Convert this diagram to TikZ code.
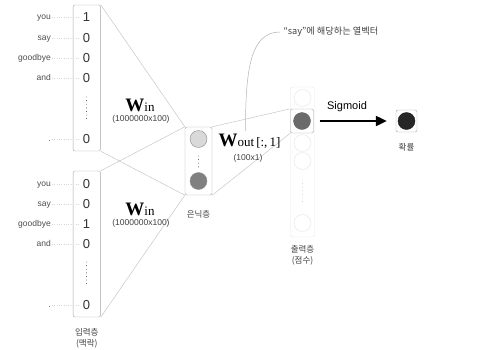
\documentclass[tikz,border=0pt]{standalone}
\usepackage{fontspec}
\setmainfont{Liberation Sans}
\newfontfamily\krfont{Noto Sans CJK KR}
\newfontfamily\wfont{Liberation Serif}
\usetikzlibrary{arrows.meta,positioning,calc}

\newcommand{\wlabel}[1]{{\wfont\fontsize{19}{19}\selectfont\bfseries W}{\wfont\fontsize{13}{13}\selectfont #1}}

\begin{document}
\begin{tikzpicture}[x=1pt, y=-1pt,
  font=\fontsize{8.5}{10}\selectfont,
  >=Latex,
  vecbox/.style={draw=black!35, rounded corners=2pt, fill=white, inner sep=0pt},
  entry/.style={font=\fontsize{13}{13}\selectfont, text=black!80, inner sep=1pt},
  word/.style={anchor=east, text=black!70, inner sep=1pt, text height=6pt, text depth=2pt},
  leader/.style={draw=black!15, dotted, line width=0.35pt},
  link/.style={draw=black!22, line width=0.5pt},
  unit/.style={circle, minimum size=17pt, inner sep=0pt, draw=black!45},
  ghost/.style={circle, minimum size=17pt, inner sep=0pt, draw=black!10},
  vdots/.style={line width=0.9pt, dash pattern=on 0pt off 3.6pt, line cap=round, black!70},
  krlabel/.style={font=\krfont\fontsize{8.5}{10.5}\selectfont, align=center, text=black!75},
  dims/.style={text=black!75},
  arrow/.style={-{Triangle[length=11pt,width=10pt]}, line width=2.2pt}
]
  \useasboundingbox (0,0) rectangle (479,349);

  \node[vecbox, minimum width=27.5pt, minimum height=146pt] (intop) at (86.8,78) {};
  \node[vecbox, minimum width=27.5pt, minimum height=146pt] (inbot) at (86.8,244) {};
  \node[vecbox, minimum width=27pt, minimum height=68pt] (hid) at (198.5,161) {};
  \node[vecbox, draw=black!10, minimum width=24pt, minimum height=150pt] (outcol) at (302.5,162) {};

  \draw[link] (intop.north east) -- (hid.north west);
  \draw[link] (intop.south east) -- (hid.south west);
  \draw[link] (inbot.north east) -- (hid.north west);
  \draw[link] (inbot.south east) -- (hid.south west);

  \foreach \n/\y/\w/\v in {1/17/you/1, 2/38/say/0, 3/58/goodbye/0, 4/78/and/0, 5/139/./0} {
    \node[word] (tw\n) at (52,\y) {\w};
    \draw[leader] (tw\n.east) -- ++(27,0);
    \node[entry] (t\n) at (86.5,\y) {\v};
  }
  \foreach \n/\y/\w/\v in {1/184/you/0, 2/204/say/0, 3/224/goodbye/1, 4/244/and/0, 5/305/./0} {
    \node[word] (bw\n) at (52,\y) {\w};
    \draw[leader] (bw\n.east) -- ++(27,0);
    \node[entry] (b\n) at (86.5,\y) {\v};
  }
  \draw[vdots] (86.5,97) -- (86.5,120);
  \draw[vdots] (86.5,262) -- (86.5,285);

  \node[unit, fill=black!15] (h1) at (198.5,139) {};
  \node[unit, fill=black!50] (h2) at (198.5,181) {};
  \draw[vdots] (198.5,156) -- (198.5,168);

  \node[ghost] (g1) at (302.5,98) {};
  \node[ghost] (g2) at (302.5,143) {};
  \node[ghost] (g3) at (302.5,161) {};
  \node[ghost] (g4) at (302.5,223) {};
  \draw[vdots, black!20] (302.5,180) -- (302.5,205);
  \node[vecbox, minimum width=23pt, minimum height=24pt] (sel) at (302,121) {};
  \node[unit, fill=black!58, draw=black!60] (o1) at (sel) {};

  \draw[link] (hid.north east) -- (sel.north west);
  \draw[link] (hid.south east) -- (sel.south west);

  \node[vecbox, minimum width=21pt, minimum height=22pt] (prob) at (406.5,121) {};
  \node[unit, fill=black!85, draw=black!90] (p1) at (prob) {};
  \draw[arrow, shorten <=6pt, shorten >=9pt] (sel.east) -- (prob.west);
  \node[font=\fontsize{11}{11}\selectfont] (sig) at (347,107) {Sigmoid};

  \node (win1) at (140,105.5) {\wlabel{in}};
  \node[dims] (win1d) at (141,119) {(1000000x100)};
  \node (win2) at (140,209) {\wlabel{in}};
  \node[dims] (win2d) at (141,223) {(1000000x100)};
  \node (wout) at (249.5,141.5) {\wlabel{out\,[:,\,1]}};
  \node[dims] (woutd) at (248,158) {(100x1)};

  \node[krlabel, font=\krfont\fontsize{9.2}{11}\selectfont, anchor=west] (note) at (280,32) {“say”에 해당하는 열벡터};
  \draw[link, black!30] ([xshift=-4pt]wout.north) .. controls +(0,-60) and +(-30,0) .. (note.west);

  \node[krlabel, below=8pt of inbot] (inlbl) {입력층\\(맥락)};
  \node[krlabel, below=12pt of hid] (hidlbl) {은닉층};
  \node[krlabel, below=5pt of outcol] (outlbl) {출력층\\(점수)};
  \node[krlabel, below=8pt of prob] (problbl) {확률};
\end{tikzpicture}
\end{document}
